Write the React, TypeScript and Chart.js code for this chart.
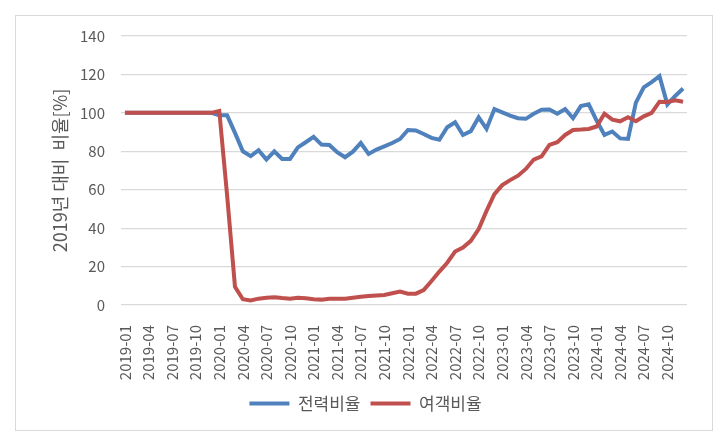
import { useEffect, useRef } from "react";
import { Chart, registerables } from "chart.js";

Chart.register(...registerables);

const years = ["2019", "2020", "2021", "2022", "2023", "2024"];
const months = ["01", "02", "03", "04", "05", "06", "07", "08", "09", "10", "11", "12"];
const labels = years.flatMap((y) => months.map((m) => `${y}-${m}`));

// 전력비율 (2019 = 100)
const powerRatio = [
  100, 100, 100, 100, 100, 100, 100, 100, 100, 100, 100, 100,
  98.7, 98.7, 89.6, 80, 77.5, 80.6, 75.7, 80, 76, 76, 82, 84.7,
  87.5, 83.5, 83.3, 79.5, 76.9, 79.8, 84.3, 78.6, 80.9, 82.6, 84.3, 86.4,
  91.1, 90.8, 89, 87, 86, 92.5, 95.1, 88.5, 90.5, 97.7, 91.7, 102,
  100.3, 98.6, 97.2, 96.9, 99.5, 101.6, 101.7, 99.5, 102, 97.2, 103.5, 104.4,
  96, 88.5, 90.3, 86.7, 86.4, 105.3, 113.3, 116, 119.1, 104.4, 108.8, 112.7,
];

// 여객비율 (2019 = 100)
const passengerRatio = [
  100, 100, 100, 100, 100, 100, 100, 100, 100, 100, 100, 100,
  101, 57, 9.5, 3, 2.4, 3.3, 3.8, 4, 3.6, 3.3, 3.8, 3.5,
  3, 2.8, 3.3, 3.3, 3.3, 3.8, 4.3, 4.7, 5, 5.2, 6.1, 7,
  5.9, 5.9, 7.8, 12.5, 17.4, 22, 27.8, 29.9, 33.4, 39.5, 49, 57.7,
  62.4, 65, 67.3, 70.8, 75.7, 77.4, 83.3, 84.7, 88.5, 91.1, 91.3, 91.6,
  92.9, 99.6, 96.5, 95.6, 97.7, 95.6, 98.2, 100, 105.8, 105.7, 106.5, 105.8,
];

const seriesNames = ["전력비율", "여객비율"];
const seriesColors = ["#4F81BD", "#C0504D"];

const fontFamily = "'Noto Sans CJK KR', 'Liberation Sans', sans-serif";
const textColor = "#595959";

export default function App() {
  const canvasRef = useRef<HTMLCanvasElement | null>(null);

  useEffect(() => {
    if (!canvasRef.current) return;
    const chart = new Chart(canvasRef.current, {
      type: "line",
      data: {
        labels,
        datasets: [powerRatio, passengerRatio].map((data, i) => ({
          label: seriesNames[i],
          data,
          borderColor: seriesColors[i],
          backgroundColor: seriesColors[i],
          borderWidth: 4,
          pointRadius: 0,
          tension: 0,
          fill: false,
          // later series on top, like the original
          order: 2 - i,
        })),
      },
      options: {
        responsive: false,
        animation: false,
        layout: { padding: { top: 36, right: 37, left: 44, bottom: 25 } },
        plugins: {
          legend: {
            position: "bottom",
            labels: {
              usePointStyle: true,
              pointStyle: "line",
              pointStyleWidth: 40,
              color: textColor,
              padding: 10,
              font: { family: fontFamily, size: 17 },
              sort: (a, b) => (a.datasetIndex ?? 0) - (b.datasetIndex ?? 0),
            },
          },
          tooltip: { enabled: false },
        },
        scales: {
          x: {
            offset: true,
            grid: { display: false },
            border: { display: false },
            ticks: {
              autoSkip: false,
              minRotation: 90,
              maxRotation: 90,
              padding: 12,
              color: textColor,
              font: { family: fontFamily, size: 15 },
              callback: function (value, index) {
                return index % 3 === 0 ? labels[index] : "";
              },
            },
            afterFit: (scale) => {
              scale.height = 80;
            },
          },
          y: {
            min: 0,
            max: 140,
            ticks: {
              stepSize: 20,
              padding: 16,
              color: textColor,
              font: { family: fontFamily, size: 15 },
            },
            grid: { color: "#d9d9d9", lineWidth: 1.2, drawTicks: false },
            border: { display: false },
            title: {
              display: true,
              text: "2019년 대비  비율[%]",
              color: textColor,
              padding: { top: 5, bottom: 0 },
              font: { family: fontFamily, size: 18 },
            },
            afterFit: (scale) => {
              scale.width = 77;
            },
          },
        },
      },
    });
    return () => chart.destroy();
  }, []);

  return (
    <div style={{ position: "fixed", left: 0, top: 0, width: 724, height: 447, background: "#fff" }}>
      <div
        style={{
          position: "absolute",
          left: 15,
          top: 15,
          width: 696,
          height: 414,
          border: "1px solid #d9d9d9",
        }}
      />
      <canvas ref={canvasRef} width={724} height={447} style={{ position: "absolute", left: 0, top: 0 }} />
    </div>
  );
}
